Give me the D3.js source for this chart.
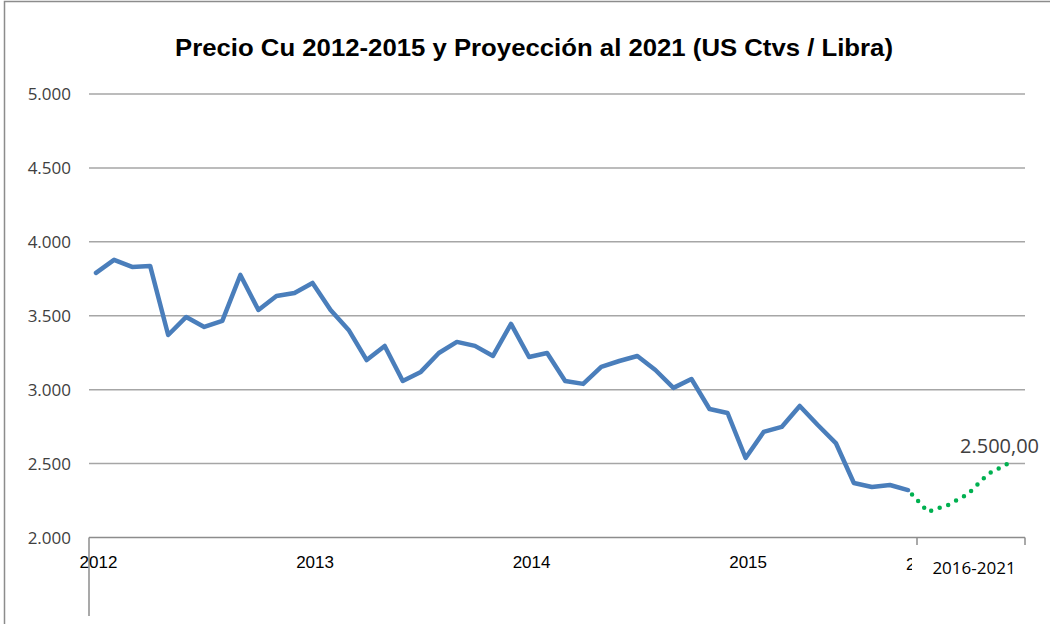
<!DOCTYPE html>
<html>
<head>
<meta charset="utf-8">
<script src="https://cdn.jsdelivr.net/npm/d3@7"></script>
<style>
  body { margin: 0; background: #fff; }
  svg { display: block; }
</style>
</head>
<body>
<div id="chart"></div>
<script>
// monthly copper price, Jan 2012 .. Oct 2015 (US ctvs / lb)
var yearLabels = ["2012", "2013", "2014", "2015"];
var yearStartIdx = [0, 12, 24, 36];
var prices = [3790, 3878, 3830, 3837, 3370, 3492, 3424, 3465, 3776, 3539, 3634, 3654,
              3722, 3539, 3404, 3200, 3296, 3059, 3120, 3248, 3323, 3296, 3228, 3445,
              3221, 3248, 3059, 3039, 3154, 3194, 3228, 3133, 3012, 3072, 2869, 2842,
              2538, 2714, 2748, 2890, 2761, 2639, 2369, 2342, 2355, 2321];
// projection 2016-2021 (starts from last observed value)
var projYears = ["2016", "2017", "2018", "2019", "2020", "2021"];
var projValues = [2321, 2173, 2220, 2294, 2430, 2500];
var yTicks = [2000, 2500, 3000, 3500, 4000, 4500, 5000];

var width = 1050;
var height = 624;

var loc = d3.formatLocale({decimal: ",", thousands: ".", grouping: [3], currency: ["$", ""]});
var fmtInt = loc.format(",");
var fmtLabel = loc.format(",.2f");

var svg = d3.select("#chart")
            .append("svg")
            .attr("width", width)
            .attr("height", height);

// chart frame
svg.append("rect")
   .attr("x", 4.5).attr("y", 1.5)
   .attr("width", width + 10).attr("height", height + 10)
   .attr("fill", "none")
   .attr("stroke", "#8c8c8c")
   .attr("stroke-width", 1.5);

var x0 = 89, x1 = 1025;
var xSplit = 917;

var x = d3.scaleLinear()
          .domain([0, prices.length - 1])
          .range([96, 908]);

var y = d3.scaleLinear()
          .domain([2000, 5000])
          .range([537.5, 94]);

var xProj = d3.scalePoint()
              .domain(projYears)
              .range([x(prices.length - 1), 1008]);

// title
svg.append("text")
   .attr("x", 534)
   .attr("y", 56)
   .attr("text-anchor", "middle")
   .attr("textLength", 718)
   .attr("lengthAdjust", "spacingAndGlyphs")
   .style("font-family", "'Liberation Sans Narrow', 'Liberation Sans', Arial, sans-serif")
   .style("font-weight", "bold")
   .style("font-size", "24px")
   .style("fill", "#000")
   .text("Precio Cu 2012-2015 y Proyección al 2021 (US Ctvs / Libra)");

// gridlines
svg.append("g")
   .selectAll("line")
   .data(yTicks.slice(1))
   .enter()
   .append("line")
   .attr("x1", x0).attr("x2", x1)
   .attr("y1", function(d){ return y(d); })
   .attr("y2", function(d){ return y(d); })
   .attr("stroke", "#a6a6a6")
   .attr("stroke-width", 1.5);

// y axis labels
var yAxis = d3.axisLeft(y)
              .tickValues(yTicks)
              .tickSize(0)
              .tickPadding(0)
              .tickFormat(fmtInt);

var gy = svg.append("g")
            .attr("transform", "translate(71,0)")
            .call(yAxis);
gy.select(".domain").remove();
gy.selectAll("text")
  .attr("dy", "0.35em")
  .style("font-family", "'Open Sans', 'DejaVu Sans', sans-serif")
  .style("font-size", "17px")
  .style("fill", "#404040");

// x axis line and ticks
svg.append("line")
   .attr("x1", x0).attr("x2", x1)
   .attr("y1", 537.5).attr("y2", 537.5)
   .attr("stroke", "#8c8c8c")
   .attr("stroke-width", 1.5);
svg.append("line")
   .attr("x1", x0).attr("x2", x0)
   .attr("y1", 537.5).attr("y2", 616)
   .attr("stroke", "#8c8c8c")
   .attr("stroke-width", 1.5);
svg.selectAll("line.xtick")
   .data([xSplit, x1])
   .enter()
   .append("line")
   .attr("class", "xtick")
   .attr("x1", function(d){ return d; })
   .attr("x2", function(d){ return d; })
   .attr("y1", 537.5).attr("y2", 545)
   .attr("stroke", "#8c8c8c")
   .attr("stroke-width", 1.5);

// year labels
var xAxis = d3.axisBottom(x)
              .tickValues(yearStartIdx)
              .tickSize(0)
              .tickPadding(0)
              .tickFormat(function(d, i){ return yearLabels[i]; });
var gx = svg.append("g")
            .attr("transform", "translate(2,556)")
            .call(xAxis);
gx.select(".domain").remove();
gx.selectAll("text")
  .style("font-family", "'Liberation Sans Narrow', 'Liberation Sans', Arial, sans-serif")
  .style("font-size", "17px")
  .style("fill", "#000");

// clipped "2016" label peeking before the split
svg.append("clipPath")
   .attr("id", "cut")
   .append("rect")
   .attr("x", 905).attr("y", 550).attr("width", 7).attr("height", 30);
svg.append("text")
   .attr("clip-path", "url(#cut)")
   .attr("x", 906)
   .attr("y", 570)
   .style("font-family", "'Liberation Sans Narrow', 'Liberation Sans', Arial, sans-serif")
   .style("font-size", "17px")
   .text("2");

svg.append("text")
   .attr("x", (xSplit + x1) / 2 + 3)
   .attr("y", 574)
   .attr("text-anchor", "middle")
   .style("font-family", "'Open Sans', 'DejaVu Sans', sans-serif")
   .style("font-size", "17px")
   .style("fill", "#000")
   .text(projYears[0] + "-" + projYears[projYears.length - 1]);

// price line
var line = d3.line()
             .x(function(d, i){ return x(i); })
             .y(function(d){ return y(d); });

svg.append("path")
   .datum(prices)
   .attr("d", line)
   .attr("fill", "none")
   .attr("stroke", "#4a7ebb")
   .attr("stroke-width", 4.5)
   .attr("stroke-linejoin", "round")
   .attr("stroke-linecap", "round");

// projection dotted line
var projLine = d3.line()
                 .x(function(d, i){ return xProj(projYears[i]); })
                 .y(function(d){ return y(d); });

svg.append("path")
   .datum(projValues)
   .attr("d", projLine)
   .attr("fill", "none")
   .attr("stroke", "#00b050")
   .attr("stroke-width", 4.5)
   .attr("stroke-dasharray", "0 9")
   .attr("stroke-dashoffset", -6)
   .attr("stroke-linecap", "round");

// end label
var lastV = projValues[projValues.length - 1];
svg.append("text")
   .attr("x", xProj(projYears[projYears.length - 1]) - 48)
   .attr("y", y(lastV) - 11)
   .style("font-family", "'Open Sans', 'DejaVu Sans', sans-serif")
   .style("font-size", "20px")
   .style("fill", "#404040")
   .text(fmtLabel(lastV));
</script>
</body>
</html>
